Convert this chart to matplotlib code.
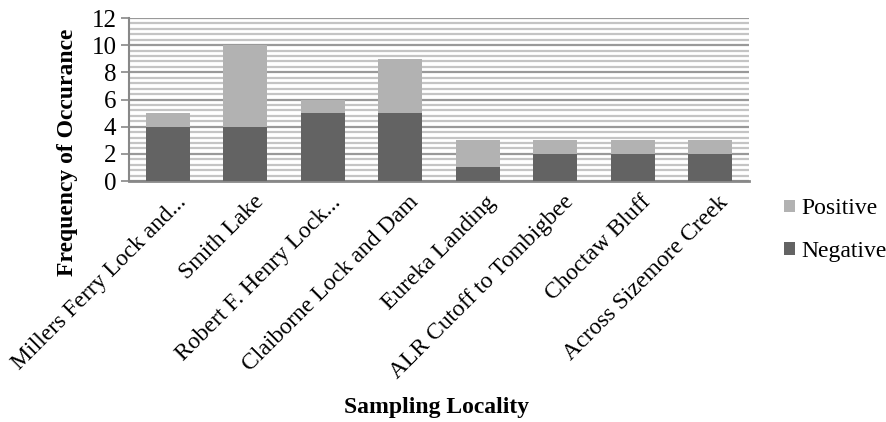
import matplotlib
matplotlib.use("Agg")
import matplotlib.pyplot as plt
import numpy as np
from matplotlib.ticker import MultipleLocator

categories = ["Millers Ferry Lock and...", "Smith Lake", "Robert F. Henry Lock...",
              "Claiborne Lock and Dam", "Eureka Landing", "ALR Cutoff to Tombigbee",
              "Choctaw Bluff", "Across Sizemore Creek"]
negative = [4, 4, 5, 5, 1, 2, 2, 2]
positive = [1, 6, 1, 4, 2, 1, 1, 1]
yticks = [0, 2, 4, 6, 8, 10, 12]

plt.rcParams['font.family'] = ['Liberation Serif', 'DejaVu Serif']

fig = plt.figure(figsize=(8.86, 4.22), dpi=100)
W, H = 886, 422
ax = fig.add_axes([129 / W, 1 - 181 / H, (749 - 129) / W, (181 - 18) / H])

x = np.arange(len(categories))
neg_c = "#636363"
pos_c = "#b2b2b2"
ax.bar(x, negative, width=0.57, color=neg_c, label="Negative", zorder=3)
ax.bar(x, positive, width=0.57, bottom=negative, color=pos_c, label="Positive", zorder=3)

ax.set_xlim(-0.5, len(categories) - 0.5)
ax.set_ylim(0, 12)
ax.set_yticks(yticks)
ax.set_yticklabels([str(t) for t in yticks], fontsize=18)
ax.yaxis.set_minor_locator(MultipleLocator(0.4))
ax.grid(True, which='major', axis='y', color='#999999', linewidth=1.6, zorder=0)
ax.grid(True, which='minor', axis='y', color='#c4c4c4', linewidth=1.6, zorder=0)
ax.tick_params(axis='y', which='minor', length=0)
ax.tick_params(axis='y', which='major', length=6, color='#888888', width=1.2, pad=3)
ax.tick_params(axis='x', length=0, pad=13)

ax.set_xticks(x)
ax.set_xticklabels(categories, rotation=45, ha='right', va='center',
                   rotation_mode='anchor', fontsize=17)
for lbl in ax.get_xticklabels():
    lbl.set_transform(lbl.get_transform() + matplotlib.transforms.ScaledTranslation(0.15, 0, fig.dpi_scale_trans))

for s in ['top', 'right']:
    ax.spines[s].set_visible(False)
ax.spines['left'].set_color('#888888')
ax.spines['left'].set_linewidth(1.5)
ax.spines['bottom'].set_color('#888888')
ax.spines['bottom'].set_linewidth(2)

fig.text(68 / W, 1 - 152 / H, "Frequency of Occurance", fontsize=17, fontweight='bold',
         rotation=90, ha='center', va='center')
fig.text(437 / W, 1 - 408 / H, "Sampling Locality", fontsize=17, fontweight='bold',
         ha='center', va='center')

handles, labels = ax.get_legend_handles_labels()
fig.legend(handles[::-1], labels[::-1], loc='center left', bbox_to_anchor=(784 / W, 1 - 230 / H),
           frameon=False, fontsize=17, handlelength=0.45, handleheight=0.45,
           labelspacing=0.9, handletextpad=0.3, borderaxespad=0, borderpad=0)

fig.savefig("out.png", dpi=100)
